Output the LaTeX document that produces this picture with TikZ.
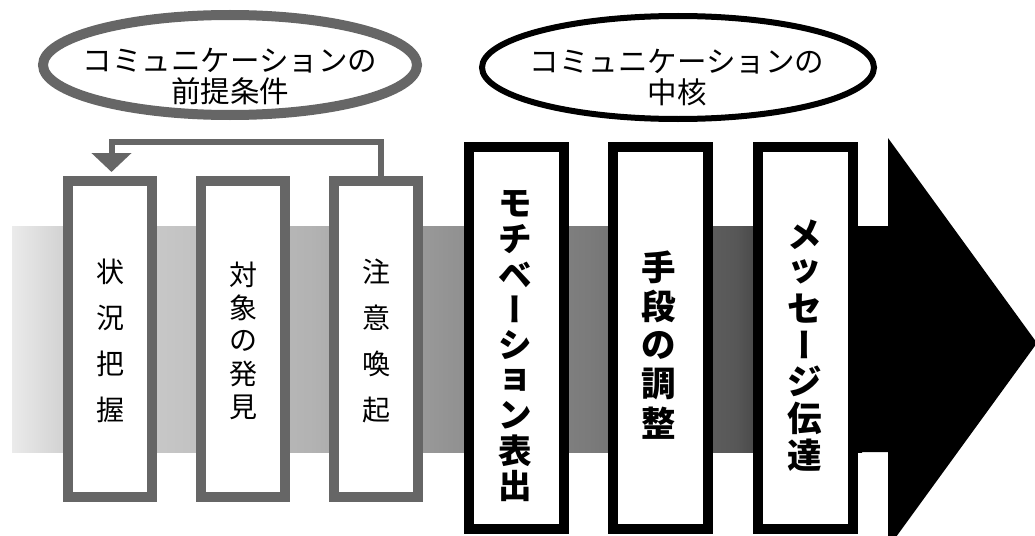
\documentclass[tikz,border=0pt]{standalone}
\usepackage{fontspec}
\newfontfamily\jp{Noto Sans CJK JP}
\newfontfamily\jpv[RawFeature=+vert]{Noto Sans CJK JP}
\usetikzlibrary{shapes.geometric,arrows.meta}
\colorlet{dgray}{black!60}
\colorlet{sA}{black!8}
\colorlet{sB}{black!17}
\colorlet{sC}{black!23}
\colorlet{sD}{black!30}
\colorlet{sE}{black!42}
\colorlet{sF}{black!52}
\colorlet{sG}{black!66}
\colorlet{sH}{black!90}
\pgfdeclarehorizontalshading{bandshade}{100bp}{color(0bp)=(sA); color(25bp)=(sA); color(27.84bp)=(sB); color(34.63bp)=(sC); color(42.61bp)=(sD); color(50.47bp)=(sE); color(59.04bp)=(sF); color(67.61bp)=(sG); color(72.75bp)=(sH); color(75bp)=(black); color(100bp)=(black)}
\newcommand{\vbar}{{\jpv ー}}
\newlength{\vpitch}
\newcommand{\ch}[1]{\vbox to \vpitch{\vss\hbox{#1}\vss}}
\newcommand{\vstack}[2]{\setlength{\vpitch}{#1}\vbox{\offinterlineskip #2}}
\begin{document}
\begin{tikzpicture}[x=1pt,y=-1pt,
  prebox/.style={draw=dgray, line width=10pt, fill=white, minimum width=84pt, minimum height=316pt, inner sep=0pt},
  corebox/.style={draw=black, line width=10pt, fill=white, minimum width=95pt, minimum height=382pt, inner sep=0pt},
  pretext/.style={inner sep=0pt, font=\jp\fontsize{28}{30}\selectfont},
  coretext/.style={inner sep=0pt, font=\jp\bfseries\fontsize{#1}{36}\selectfont},
  elltext/.style={align=center, inner sep=0pt, font=\jp\fontsize{29.5}{31}\selectfont},
  fb/.style={draw=dgray, line width=6pt, -{Triangle[width=39pt,length=19pt]}}
]
\useasboundingbox (0,0) rectangle (1035,535);
% band and arrow
\path[shading=bandshade] (12,226) rectangle (862,452);
\fill[black] (855,226) -- (888,226) -- (888,138) -- (1037,343) -- (888,548) -- (888,452) -- (855,452) -- cycle;
% ellipses
\node[ellipse, draw=dgray, line width=10pt, minimum width=374pt, minimum height=100pt, inner sep=0pt] (e1) at (230,65) {};
\node[elltext] (te1) at (230,76) {コミュニケーションの\\前提条件};
\node[ellipse, draw=black, line width=6pt, minimum width=392pt, minimum height=103pt, inner sep=0pt] (e2) at (678,67.5) {};
\node[elltext] (te2) at (677,78) {コミュニケーションの\\中核};
% precondition boxes
\node[prebox] (b1) at (110,339) {};
\node[prebox] (b2) at (243,339) {};
\node[prebox] (b3) at (376,339) {};
\node[pretext] (t1) at (110,341) {\vstack{46pt}{\ch{状}\ch{況}\ch{把}\ch{握}}};
\node[pretext] (t2) at (243,341) {\vstack{33pt}{\ch{対}\ch{象}\ch{の}\ch{発}\ch{見}}};
\node[pretext] (t3) at (376,341) {\vstack{46pt}{\ch{注}\ch{意}\ch{喚}\ch{起}}};
% core boxes
\node[corebox] (b4) at (516,338) {};
\node[corebox] (b5) at (660.5,338) {};
\node[corebox] (b6) at (805.5,338) {};
\node[coretext=33.5] (t4) at (515,345) {\vstack{35.2pt}{\ch{モ}\ch{チ}\ch{ベ}\ch{\vbar}\ch{シ}\ch{ョ}\ch{ン}\ch{表}\ch{出}}};
\node[coretext=34.5] (t5) at (659,345) {\vstack{39pt}{\ch{手}\ch{段}\ch{の}\ch{調}\ch{整}}};
\node[coretext=34.5] (t6) at (805,345) {\vstack{36.6pt}{\ch{メ}\ch{ッ}\ch{セ}\ch{\vbar}\ch{ジ}\ch{伝}\ch{達}}};
% feedback arrow
\draw[fb] ([xshift=5pt]b3.north) -- ++(0,-34) -| ([xshift=1.5pt,yshift=4pt]b1.north);
\end{tikzpicture}
\end{document}
